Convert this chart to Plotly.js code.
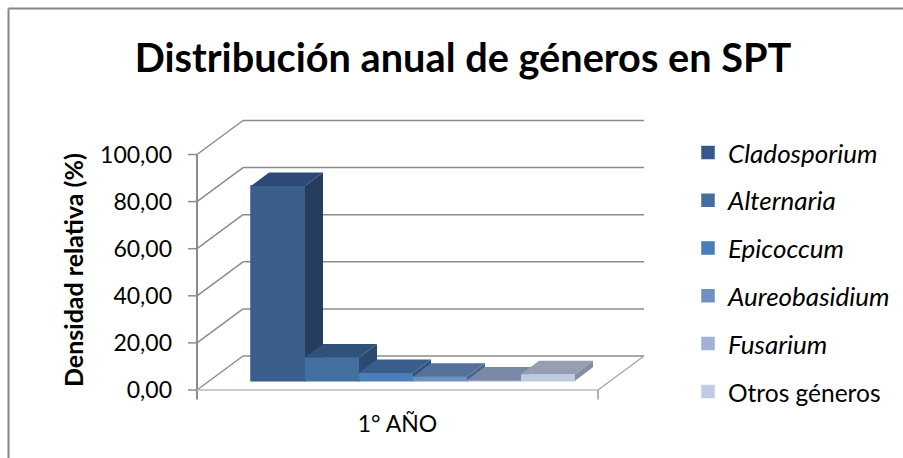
<!DOCTYPE html>
<html>
<head>
<meta charset="utf-8">
<script src="https://cdn.plot.ly/plotly-3.0.1.min.js"></script>
<style>html,body{margin:0;padding:0;background:#fff}#c{width:903px;height:458px}</style>
</head>
<body>
<div id="c"></div>
<script>
const categories = ["1° AÑO"];
const seriesNames = ["<i>Cladosporium</i>","<i>Alternaria</i>","<i>Epicoccum</i>","<i>Aureobasidium</i>","<i>Fusarium</i>","<span style=\"font-size:24.5px\">Otros géneros</span>"];
const seriesValues = [82.7, 9.9, 3.3, 1.7, 0.1, 2.7];
const yTicks = [0, 20, 40, 60, 80, 100];
const frontColors = ["#3a5f8b","#44709f","#4a7ebb","#7090c4","#a0b3d5","#bfcbe3"];
const legendColors = ["#35598a","#44709f","#4a7ebb","#7090c4","#a0b3d5","#bfcbe3"];
const topColors = ["#2b4a75","#305179","#3a5e8c","#55719c","#7888a5","#969fb2"];
const sideColors = ["#263d5d","#2a4a70","#325378","#4a6386","#66758f","#8490a2"];

// projection of the pseudo-3D box, in axis units
const PX_X = 401, PX_Y = 2.355;
const wallDx = 46 / PX_X, wallDy = 34 / PX_Y;
const barDx = 18 / PX_X, barDy = 13.5 / PX_Y;
const barW = 54 / PX_X, barX0 = 54 / PX_X, barBase = 9.3 / PX_Y;
const GRID = "#8c8c8c";

const line = (x0,y0,x1,y1,color,width) => ({type:"line",xref:"x",yref:"y",layer:"below",x0,y0,x1,y1,line:{color:color||GRID,width:width||1.5}});
const shapes = [];
yTicks.forEach(v => {
  shapes.push(line(0,v,wallDx,v+wallDy));
  shapes.push(line(wallDx,v+wallDy,1+wallDx,v+wallDy));
  shapes.push(line(-9/PX_X,v,0,v));
});
shapes.push(line(0,-4,0,100,GRID,2));
shapes.push(line(1,0,1,-4,"#9a9a9a"));
shapes.push(line(0,0,1,0,"#bdbdbd",1.5));
shapes.push(line(1,0,1+wallDx,wallDy,"#a8a8a8",1.5));
// chart frame: visible top and left edges
const px = v => (v-188)/462, py = v => 1-(v-110)/292;
shapes.push({type:"line",xref:"paper",yref:"paper",x0:px(8.5),x1:px(903),y0:py(8.5),y1:py(8.5),line:{color:"#868686",width:2}});
shapes.push({type:"line",xref:"paper",yref:"paper",x0:px(8.5),x1:px(8.5),y0:py(8.5),y1:py(458),line:{color:"#868686",width:2}});

const traces = [];
seriesValues.forEach((v,i) => {
  const x0 = barX0 + i*barW;
  traces.push({type:"bar",name:seriesNames[i],x:[x0+barW/2],y:[v],base:[barBase],width:barW,legendgroup:"g"+i,
    marker:{color:legendColors[i],line:{color:legendColors[i],width:1.5}},hoverinfo:"skip"});
});
seriesValues.forEach((v,i) => {
  const x0 = barX0 + i*barW, x1 = x0 + barW, b = barBase, t = barBase + v;
  const poly = (xs,ys,c) => traces.push({type:"scatter",mode:"lines",x:xs,y:ys,fill:"toself",fillcolor:c,line:{width:0,color:c},showlegend:false,legendgroup:"g"+i,hoverinfo:"skip"});
  poly([x1,x1+barDx,x1+barDx,x1,x1],[b,b+barDy,t+barDy,t,b],sideColors[i]);
  poly([x0,x1,x1+barDx,x0+barDx,x0],[t,t,t+barDy,t+barDy,t],topColors[i]);
  poly([x0,x1,x1,x0,x0],[b,b,t,t,b],frontColors[i]);
});

const font = "Lato, 'Liberation Sans', sans-serif";
const layout = {
  width:903,height:458,
  margin:{l:188,r:253,t:110,b:56,pad:0,autoexpand:false},
  paper_bgcolor:"#fff",plot_bgcolor:"rgba(0,0,0,0)",
  separators:",.",
  font:{family:font,color:"#000",size:23},
  title:{text:"<b>Distribución anual de géneros en SPT</b>",font:{family:font,size:39.7,color:"#000"},x:463/903,xanchor:"center",y:1-58/458,yanchor:"middle"},
  barmode:"overlay",
  showlegend:true,
  legend:{x:(688-188)/462,xanchor:"left",y:1-(129-110)/292,yanchor:"top",tracegroupgap:11,maxheight:400,font:{family:font,size:26,color:"#000"},bgcolor:"rgba(0,0,0,0)",itemclick:false,itemdoubleclick:false},
  xaxis:{range:[-9/PX_X,1+52/PX_X],showgrid:false,zeroline:false,showline:false,ticks:"",tickvals:[0.5],ticktext:categories,tickfont:{family:font,size:23},ticklabelstandoff:6},
  yaxis:{range:[-12/PX_Y,280/PX_Y],showgrid:false,zeroline:false,showline:false,ticks:"",tickvals:yTicks,tickformat:".2f",tickfont:{family:font,size:23},ticklabelstandoff:15},
  annotations:[{text:"<b>Densidad relativa (%)</b>",textangle:-90,xref:"paper",yref:"paper",x:px(73),y:py(270),xanchor:"center",yanchor:"middle",showarrow:false,font:{family:font,size:25,color:"#000"}}],
  shapes
};
Plotly.newPlot("c",traces,layout,{displayModeBar:false,responsive:false,staticPlot:true});
</script>
</body>
</html>
